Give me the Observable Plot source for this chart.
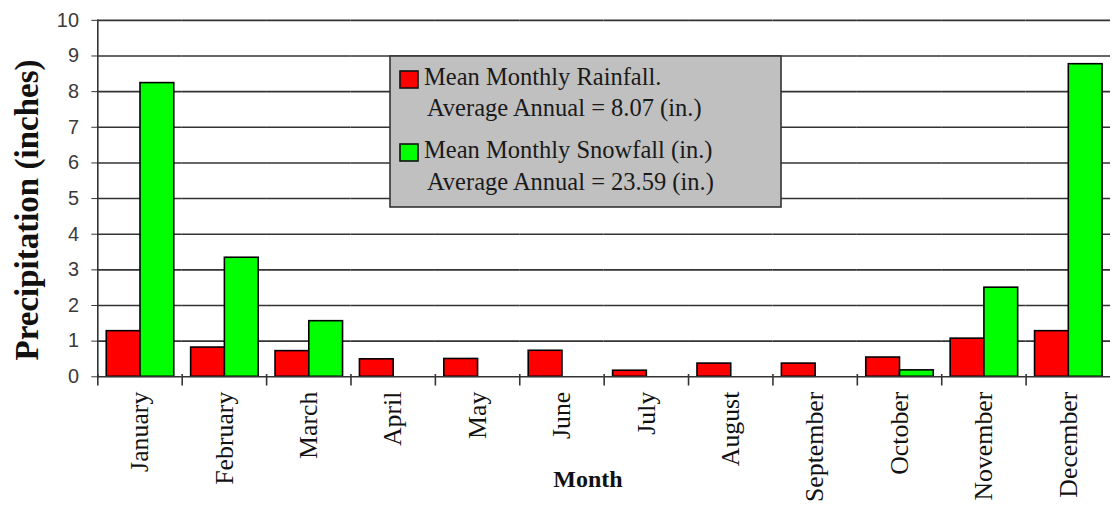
<!DOCTYPE html>
<html>
<head>
<meta charset="utf-8">
<script src="https://cdn.jsdelivr.net/npm/d3@7"></script>
<script src="https://cdn.jsdelivr.net/npm/@observablehq/plot@0.6"></script>
<style>
  html, body { margin: 0; padding: 0; background: #fff; overflow: hidden; }
  #wrap { position: relative; width: 1112px; height: 512px; overflow: hidden; }
  #wrap svg { display: block; }
  g[aria-label="y-axis tick label"] text { font-family: "Liberation Sans", Arial, sans-serif; font-size: 20px; fill: #3a3a3a; }
  g[aria-label="fx-axis tick label"] text { font-family: "Liberation Serif", serif; font-size: 26px; fill: #111; }
  .ytitle { position: absolute; left: 27px; top: 210px; transform: translate(-50%, -50%) rotate(-90deg);
    font-family: "Liberation Serif", serif; font-weight: bold; font-size: 33px; white-space: nowrap; color: #111; }
  .xtitle { position: absolute; left: 588px; top: 466px; transform: translateX(-50%);
    font-family: "Liberation Serif", serif; font-weight: bold; font-size: 24px; white-space: nowrap; color: #111; }
  #legend { position: absolute; left: 0; top: 0; pointer-events: none; }
</style>
</head>
<body>
<div id="wrap"></div>
<script>
const months = ["January","February","March","April","May","June","July","August","September","October","November","December"];
const rainfall = [1.28, 0.82, 0.72, 0.49, 0.50, 0.73, 0.17, 0.37, 0.37, 0.54, 1.07, 1.28];
const snowfall = [8.24, 3.34, 1.56, 0, 0, 0, 0, 0, 0, 0.18, 2.50, 8.77];
const seriesNames = ["Mean Monthly Rainfall", "Mean Monthly Snowfall"];
const seriesColors = ["#ff0000", "#00ff00"];
const yTicks = [0, 1, 2, 3, 4, 5, 6, 7, 8, 9, 10];
const legendLines = [
  ["Mean Monthly Rainfall.", "Average Annual = 8.07 (in.)"],
  ["Mean Monthly Snowfall (in.)", "Average Annual = 23.59 (in.)"]
];
const yTitle = "Precipitation (inches)";
const xTitle = "Month";

const data = months.flatMap((m, i) => [
  {month: m, series: seriesNames[0], value: rainfall[i]},
  {month: m, series: seriesNames[1], value: snowfall[i]}
]);

const chart = Plot.plot({
  width: 1120,
  height: 512,
  marginTop: 20,
  marginBottom: 133,
  marginLeft: 96,
  marginRight: 0,
  fx: {domain: months, padding: 0, label: null},
  x: {domain: seriesNames, paddingInner: 0, paddingOuter: 0.236, axis: null},
  y: {domain: [0, 10], axis: null},
  color: {domain: seriesNames, range: seriesColors},
  marks: [
    Plot.ruleY(yTicks.slice(1), {stroke: "#333", strokeWidth: 1.6}),
    Plot.barY(data.filter(d => d.value > 0), {fx: "month", x: "series", y: "value", fill: "series", stroke: "#000", strokeWidth: 1.6}),
    Plot.ruleY([0], {stroke: "#333", strokeWidth: 1.6}),
    Plot.frame({anchor: "left", insetTop: 357, insetBottom: -8, stroke: "#333", strokeWidth: 1.6}),
    Plot.frame({anchor: "left", facetAnchor: "left", stroke: "#333", strokeWidth: 1.6}),
    Plot.axisY({ticks: yTicks, tickSize: 6, tickPadding: 13, label: null, stroke: "#333"}),
    Plot.axisFx({anchor: "bottom", tickRotate: -90, tickSize: 0, tickPadding: 15, label: null})
  ]
});

const wrap = document.getElementById("wrap");
wrap.appendChild(chart);

const yt = document.createElement("div");
yt.className = "ytitle"; yt.textContent = yTitle; wrap.appendChild(yt);
const xt = document.createElement("div");
xt.className = "xtitle"; xt.textContent = xTitle; wrap.appendChild(xt);

// Legend box overlay
const lg = d3.select(wrap).append("svg").attr("id", "legend").attr("width", 1112).attr("height", 512);
lg.append("rect").attr("x", 390).attr("y", 56).attr("width", 391).attr("height", 151)
  .attr("fill", "#c0c0c0").attr("stroke", "#333").attr("stroke-width", 1.6);
const rowBase = [[85, 116], [158, 190]];
legendLines.forEach((lines, i) => {
  lg.append("rect").attr("x", 400).attr("y", rowBase[i][0] - 14).attr("width", 18).attr("height", 17)
    .attr("fill", seriesColors[i]).attr("stroke", "#111").attr("stroke-width", 1.6);
  lines.forEach((t, j) => {
    lg.append("text").attr("x", j === 0 ? 424 : 427).attr("y", rowBase[i][j])
      .attr("font-family", "Liberation Serif, serif").attr("font-size", 24.5).attr("fill", "#1a1a1a").text(t);
  });
});
</script>
</body>
</html>
